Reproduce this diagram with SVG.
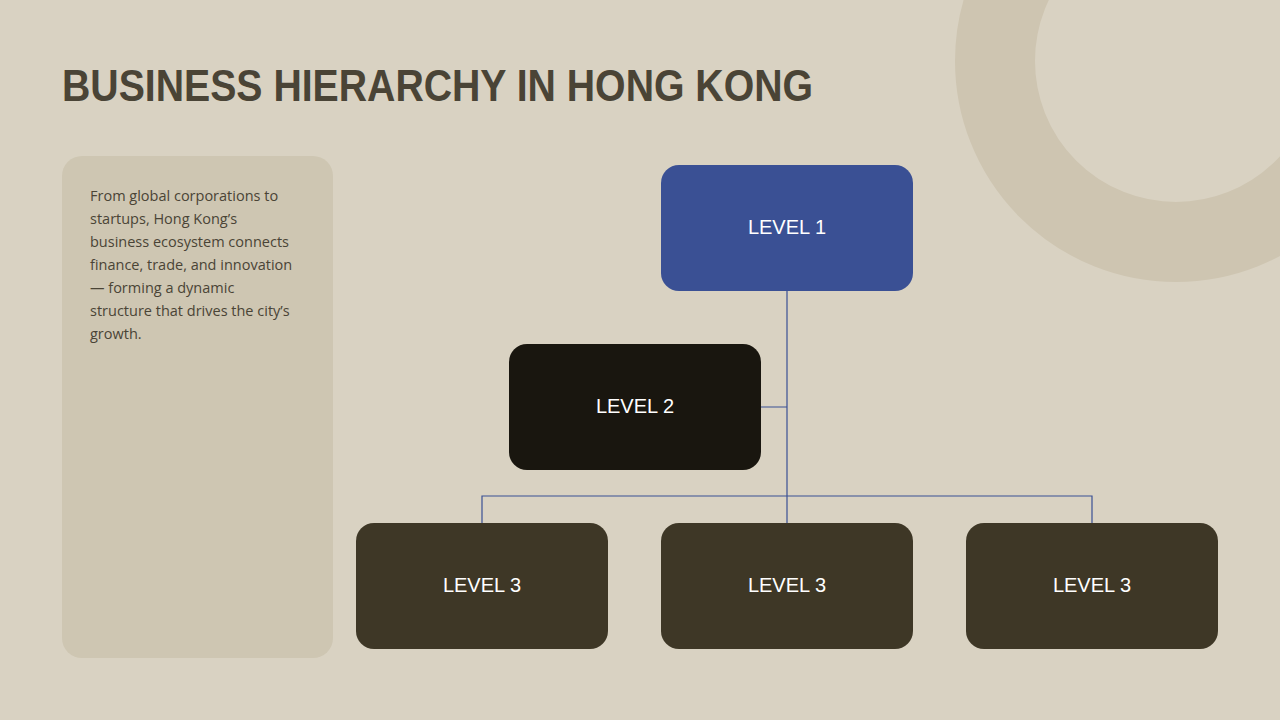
<svg xmlns="http://www.w3.org/2000/svg" width="1280" height="720" viewBox="0 0 1280 720">
<style>
.n{font-family:"Liberation Sans",Arial,sans-serif;font-size:20px;fill:#ffffff;text-anchor:middle}
.c{stroke:#3a5094;stroke-width:1.2;fill:none}
.b{font-family:"Open Sans","Liberation Sans",sans-serif;font-size:14.5px;fill:#4a4436}
</style>
<rect width="1280" height="720" fill="#d9d2c2"/>
<circle cx="1176" cy="61" r="181" fill="none" stroke="#cec5b1" stroke-width="80"/>
<text x="62" y="101" font-family="Liberation Sans,Arial,sans-serif" font-weight="bold" font-size="44" fill="#4a4436" textLength="751" lengthAdjust="spacingAndGlyphs">BUSINESS HIERARCHY IN HONG KONG</text>
<g id="panel">
<rect x="62" y="156" width="271" height="502" rx="20" fill="#cec6b2"/>
<text class="b"><tspan x="90" y="201">From global corporations to</tspan><tspan x="90" y="224">startups, Hong Kong’s</tspan><tspan x="90" y="247">business ecosystem connects</tspan><tspan x="90" y="270">finance, trade, and innovation</tspan><tspan x="90" y="293">— forming a dynamic</tspan><tspan x="90" y="316">structure that drives the city’s</tspan><tspan x="90" y="339">growth.</tspan></text>
</g>
<g id="connectors">
<path class="c" d="M787 291V523M761 407H787M482 523V496H1092V523"/>
</g>
<g id="level1"><rect x="661" y="165" width="252" height="126" rx="18" fill="#3a5094"/><text class="n" x="787" y="234">LEVEL 1</text></g>
<g id="level2"><rect x="509" y="344" width="252" height="126" rx="18" fill="#19160f"/><text class="n" x="635" y="413">LEVEL 2</text></g>
<g id="level3a"><rect x="356" y="523" width="252" height="126" rx="18" fill="#3e3726"/><text class="n" x="482" y="592">LEVEL 3</text></g>
<g id="level3b"><rect x="661" y="523" width="252" height="126" rx="18" fill="#3e3726"/><text class="n" x="787" y="592">LEVEL 3</text></g>
<g id="level3c"><rect x="966" y="523" width="252" height="126" rx="18" fill="#3e3726"/><text class="n" x="1092" y="592">LEVEL 3</text></g>
</svg>
